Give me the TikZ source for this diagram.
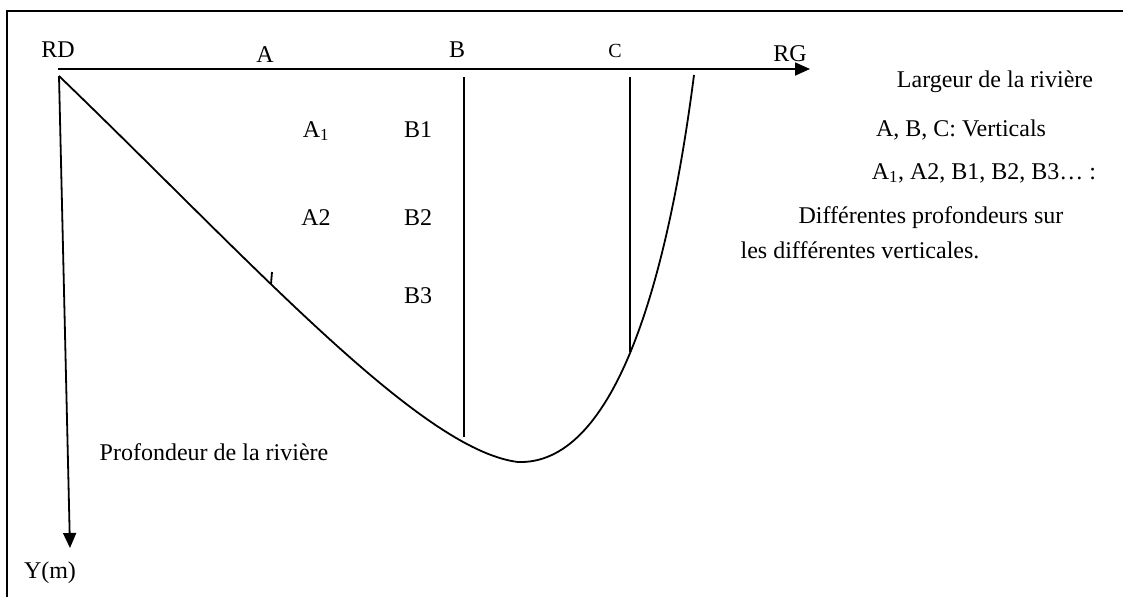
\documentclass[tikz,border=0pt]{standalone}
\usepackage{fontspec}
\setmainfont{Liberation Serif}
\usepackage{tikz}
\usetikzlibrary{arrows.meta}

\begin{document}
\begin{tikzpicture}[x=1pt, y=-1pt, line width=1.8pt,
  lbl/.style={font=\fontsize{24}{28}\selectfont, inner sep=0pt},
  small lbl/.style={font=\fontsize{20}{24}\selectfont, inner sep=0pt},
  axis/.style={-{Triangle[length=15pt, width=13pt]}}]
  \useasboundingbox (0,0) rectangle (1123,597);

  % Frame
  \draw (7,597) -- (7,11) -- (1123,11);

  % Axes
  \coordinate (o) at (59,76);
  \coordinate (xend) at (810,69);
  \coordinate (yend) at (70,548);
  \draw[axis] (58,69) -- (xend);
  \draw[axis] (o) -- (yend);

  % River bed profile
  \coordinate (bottom) at (518,462);
  \coordinate (rg) at (694,75);
  \draw (o) .. controls (250,260) and (420,450) .. (bottom)
            .. controls (610,465) and (665,300) .. (rg);
  \draw (272,272) -- (271,284);

  % Verticals B and C
  \coordinate (btop) at (464,77);
  \coordinate (bbot) at (464,437);
  \coordinate (ctop) at (630,77);
  \coordinate (cbot) at (630,352);
  \draw (btop) -- (bbot);
  \draw (ctop) -- (cbot);

  % Axis labels
  \node[lbl] (rd) at (58,50) {RD};
  \node[lbl] (a) at (265,55) {A};
  \node[lbl] (b) at (457,50) {B};
  \node[small lbl] (c) at (615,51) {C};
  \node[lbl] (rglbl) at (790,54) {RG};
  \node[lbl] (ym) at (50,573) {Y(m)};
  \node[lbl] (prof) at (214,452) {Profondeur de la rivière};

  % Depth points
  \node[lbl] (a1) at (316,131) {A\textsubscript{1}};
  \node[lbl] (a2) at (316,218) {A2};
  \node[lbl] (b1) at (418,130) {B1};
  \node[lbl] (b2) at (418,218) {B2};
  \node[lbl] (b3) at (418,296) {B3};

  % Legend
  \node[lbl] (larg) at (995,82) {Largeur de la rivière};
  \node[lbl] (vert) at (961,130) {A, B, C: Verticals};
  \node[lbl] (pts) at (984,173) {A\textsubscript{1}, A2, B1, B2, B3… :};
  \node[lbl] (diff1) at (931,218) {Différentes profondeurs sur};
  \node[lbl] (diff2) at (860,250) {les différentes verticales.};
\end{tikzpicture}
\end{document}
